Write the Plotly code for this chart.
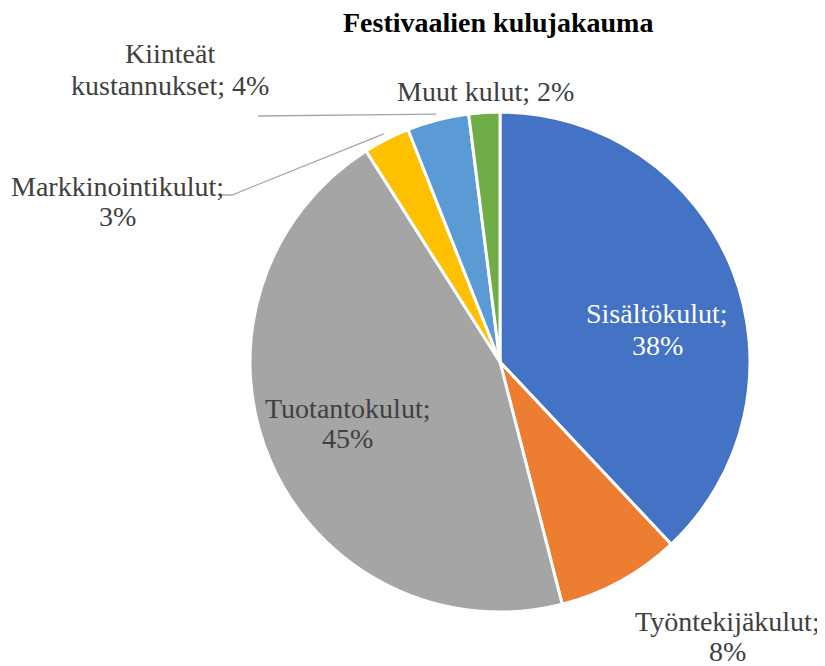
import math
import plotly.graph_objects as go

categories = ["Sisältökulut", "Työntekijäkulut", "Tuotantokulut",
              "Markkinointikulut", "Kiinteät kustannukset", "Muut kulut"]
shares = [38, 8, 45, 3, 4, 2]
colors = ["#4472C4", "#ED7D31", "#A5A5A5", "#FFC000", "#5B9BD5", "#70AD47"]
title_text = "Festivaalien kulujakauma"

OFF = 8  # page body margin
W, H = 825 - OFF, 666 - OFF
CX, CY, R = 500, 362, 250  # pie centre and radius in window pixels

def px(x):
    return (x - OFF) / W

def py(y):
    return 1 - (y - OFF) / H

fig = go.Figure(go.Pie(
    labels=categories, values=shares, sort=False, direction="clockwise",
    rotation=0, marker=dict(colors=colors, line=dict(color="white", width=3)),
    textinfo="none", hoverinfo="label+percent", showlegend=False,
    domain=dict(x=[px(CX - R), px(CX + R)], y=[py(CY + R), py(CY - R)]),
))

FAM = "Liberation Serif, Times New Roman, serif"
font = dict(family=FAM, size=28, color="#404040")
white = dict(font, color="white")

# label lines and positions (window pixels)
label_lines = [
    ("Sisältökulut;", 657, 313, white),
    ("38%", 657, 345, white),
    ("Työntekijäkulut;", 727, 621, font),
    ("8%", 727, 651, font),
    ("Tuotantokulut;", 347, 408, font),
    ("45%", 347, 438, font),
    ("Markkinointikulut;", 117, 186, font),
    ("3%", 117, 216, font),
    ("Kiinteät", 170, 53, font),
    ("kustannukset; 4%", 170, 85, font),
    ("Muut kulut; 2%", 485, 92, font),
]
anns = []
for text, x, y, f in label_lines:
    anns.append(dict(x=px(x), y=py(y), xref="paper", yref="paper", text=text,
                     showarrow=False, font=f, xanchor="center", yanchor="middle"))
anns.append(dict(x=px(498), y=py(22), xref="paper", yref="paper", showarrow=False,
                 text="<b>" + title_text + "</b>",
                 font=dict(family=FAM, size=28, color="black"),
                 xanchor="center", yanchor="middle"))

# leader lines from slice mid-points on the rim
total = sum(shares)
cum = 0
mids = []
for v in shares:
    mids.append((cum + v / 2) / total * 2 * math.pi)
    cum += v

def rim(i, r=R):
    a = mids[i]
    return CX + r * math.sin(a), CY - r * math.cos(a)

leaders = {
    3: [(232, 195), (220, 195)],
    4: [(258, 116)],
}
shapes = []
for i, pts in leaders.items():
    x0, y0 = rim(i, R + 6)
    path = f"M {px(x0)} {py(y0)}"
    for (x, y) in pts:
        path += f" L {px(x)} {py(y)}"
    shapes.append(dict(type="path", path=path, xref="paper", yref="paper",
                       line=dict(color="#A6A6A6", width=1.3)))

fig.update_layout(
    width=W, height=H, margin=dict(l=0, r=0, t=0, b=0),
    paper_bgcolor="white", plot_bgcolor="white",
    annotations=anns, shapes=shapes,
)

fig.write_html("out.html")
